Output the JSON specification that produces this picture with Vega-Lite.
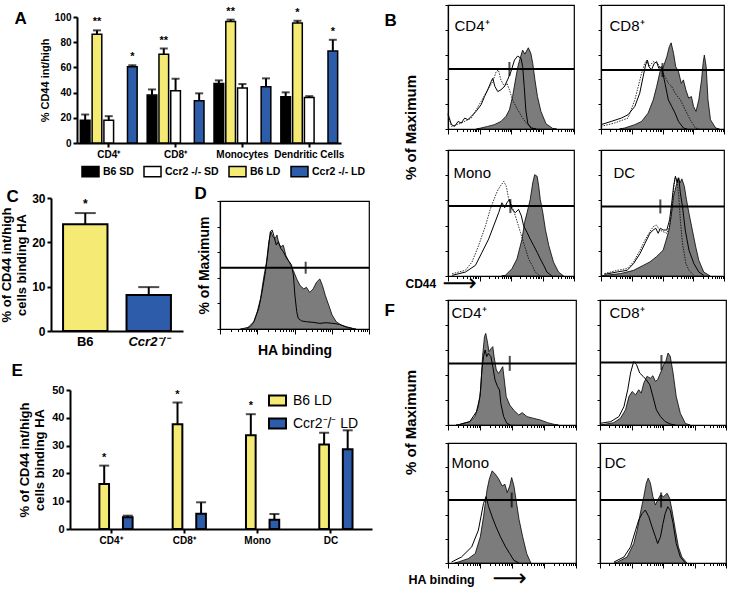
{
"$schema": "https://vega.github.io/schema/vega-lite/v6.json",
"padding": 0,
"background": "white",
"config": {
  "font": "Liberation Sans",
  "view": {"stroke": null},
  "axis": {"domainColor": "black", "tickColor": "black", "labelColor": "black", "titleColor": "black", "grid": false, "labelFont": "Liberation Sans", "titleFont": "Liberation Sans"},
  "title": {"color": "black", "font": "Liberation Sans"},
  "legend": {"labelColor": "black", "labelFont": "Liberation Sans"}
},
"datasets": {
  "barsA": [
    {"cell": "CD4⁺", "grp": "B6 SD", "v": 18.1, "hi": 22.6, "star": ""},
    {"cell": "CD4⁺", "grp": "Ccr2 -/- SD", "v": 18, "hi": 21.3, "star": ""},
    {"cell": "CD4⁺", "grp": "B6 LD", "v": 86.4, "hi": 89.4, "star": "**"},
    {"cell": "CD4⁺", "grp": "Ccr2 -/- LD", "v": 60.6, "hi": 61.7, "star": "*"},
    {"cell": "CD8⁺", "grp": "B6 SD", "v": 38, "hi": 42.5, "star": ""},
    {"cell": "CD8⁺", "grp": "Ccr2 -/- SD", "v": 41.5, "hi": 51, "star": ""},
    {"cell": "CD8⁺", "grp": "B6 LD", "v": 70.5, "hi": 75, "star": "**"},
    {"cell": "CD8⁺", "grp": "Ccr2 -/- LD", "v": 33.5, "hi": 39.4, "star": ""},
    {"cell": "Monocytes", "grp": "B6 SD", "v": 47.3, "hi": 49.7, "star": ""},
    {"cell": "Monocytes", "grp": "Ccr2 -/- SD", "v": 43.6, "hi": 46.8, "star": ""},
    {"cell": "Monocytes", "grp": "B6 LD", "v": 96.5, "hi": 97.9, "star": "**"},
    {"cell": "Monocytes", "grp": "Ccr2 -/- LD", "v": 44.7, "hi": 51.3, "star": ""},
    {"cell": "Dendritic Cells", "grp": "B6 SD", "v": 36.7, "hi": 40.2, "star": ""},
    {"cell": "Dendritic Cells", "grp": "Ccr2 -/- SD", "v": 36.2, "hi": 37.2, "star": ""},
    {"cell": "Dendritic Cells", "grp": "B6 LD", "v": 95.2, "hi": 97, "star": "*"},
    {"cell": "Dendritic Cells", "grp": "Ccr2 -/- LD", "v": 73.1, "hi": 81.9, "star": "*"}
  ],
  "barsC": [
    {"grp": "B6", "v": 24.1, "hi": 26.6, "star": "*"},
    {"grp": "Ccr2⁻/⁻", "v": 8.1, "hi": 9.9, "star": ""}
  ],
  "barsE": [
    {"cell": "CD4⁺", "grp": "B6 LD", "v": 16.2, "hi": 22.8, "star": "*"},
    {"cell": "CD4⁺", "grp": "Ccr2⁻/⁻ LD", "v": 4.2, "hi": 4.8, "star": ""},
    {"cell": "CD8⁺", "grp": "B6 LD", "v": 37.7, "hi": 45.5, "star": "*"},
    {"cell": "CD8⁺", "grp": "Ccr2⁻/⁻ LD", "v": 5.5, "hi": 9.6, "star": ""},
    {"cell": "Mono", "grp": "B6 LD", "v": 33.7, "hi": 41.3, "star": "*"},
    {"cell": "Mono", "grp": "Ccr2⁻/⁻ LD", "v": 3.3, "hi": 5.4, "star": ""},
    {"cell": "DC", "grp": "B6 LD", "v": 30.4, "hi": 34.6, "star": ""},
    {"cell": "DC", "grp": "Ccr2⁻/⁻ LD", "v": 28.7, "hi": 35.5, "star": ""}
  ],
  "gates": [
    {"p": "B1", "x": 1.95, "y": 48.4, "lo": 0, "hi": 4},
    {"p": "B2", "x": 2.0, "y": 47.6, "lo": 0, "hi": 4},
    {"p": "B3", "x": 1.98, "y": 55.5, "lo": 0, "hi": 4},
    {"p": "B4", "x": 1.93, "y": 55.2, "lo": 0, "hi": 4},
    {"p": "F1", "x": 1.93, "y": 49.3, "lo": 0, "hi": 4},
    {"p": "F2", "x": 1.95, "y": 50.0, "lo": 0, "hi": 4},
    {"p": "F3", "x": 1.99, "y": 52.5, "lo": 0, "hi": 4},
    {"p": "F4", "x": 1.94, "y": 52.5, "lo": 0, "hi": 4},
    {"p": "D", "x": 2.3, "y": 47.9, "lo": 0, "hi": 4}
  ],
  "B1g": [{"x":0.9,"y":0},{"x":1.05,"y":0.8},{"x":1.26,"y":2.1},{"x":1.47,"y":3.5},{"x":1.68,"y":6.1},{"x":1.84,"y":10.2},{"x":1.95,"y":15.5},{"x":2.05,"y":26.2},{"x":2.16,"y":42.2},{"x":2.23,"y":51.6},{"x":2.32,"y":59.6},{"x":2.37,"y":63.6},{"x":2.44,"y":60.4},{"x":2.55,"y":65.5},{"x":2.63,"y":61.0},{"x":2.69,"y":52.9},{"x":2.76,"y":39.6},{"x":2.84,"y":26.2},{"x":2.95,"y":14.2},{"x":3.11,"y":4.3},{"x":3.32,"y":0.5},{"x":3.45,"y":0}],
  "B1l": [{"x":0,"y":11.5},{"x":0.11,"y":3.5},{"x":0.21,"y":2.1},{"x":0.32,"y":6.1},{"x":0.42,"y":4.8},{"x":0.53,"y":8.8},{"x":0.63,"y":7.5},{"x":0.74,"y":10.2},{"x":0.89,"y":14.2},{"x":1.05,"y":19.5},{"x":1.16,"y":26.2},{"x":1.26,"y":31.6},{"x":1.37,"y":38.2},{"x":1.42,"y":40.9},{"x":1.49,"y":34.2},{"x":1.58,"y":30.2},{"x":1.68,"y":31.6},{"x":1.79,"y":34.2},{"x":1.89,"y":39.6},{"x":2.0,"y":46.3},{"x":2.11,"y":55.6},{"x":2.21,"y":58.8},{"x":2.32,"y":57.0},{"x":2.37,"y":50.3},{"x":2.42,"y":34.2},{"x":2.47,"y":15.5},{"x":2.53,"y":4.8},{"x":2.63,"y":0.8},{"x":2.8,"y":0}],
  "B1d": [{"x":0,"y":12.8},{"x":0.11,"y":2.1},{"x":0.42,"y":4.8},{"x":0.74,"y":8.8},{"x":1.05,"y":22.2},{"x":1.26,"y":31.6},{"x":1.42,"y":38.2},{"x":1.53,"y":46.3},{"x":1.6,"y":47.6},{"x":1.68,"y":39.6},{"x":1.79,"y":34.2},{"x":1.87,"y":36.9},{"x":1.95,"y":31.6},{"x":2.05,"y":23.5},{"x":2.21,"y":15.5},{"x":2.37,"y":8.8},{"x":2.53,"y":3.5},{"x":2.68,"y":0.8},{"x":2.85,"y":0}],
  "B2g": [{"x":0.6,"y":0},{"x":0.77,"y":0.8},{"x":1.1,"y":3.5},{"x":1.32,"y":6.1},{"x":1.53,"y":12.8},{"x":1.7,"y":23.5},{"x":1.81,"y":34.2},{"x":1.92,"y":46.3},{"x":2.03,"y":50.3},{"x":2.14,"y":58.3},{"x":2.22,"y":66.3},{"x":2.28,"y":69.5},{"x":2.36,"y":61.0},{"x":2.43,"y":50.3},{"x":2.52,"y":46.3},{"x":2.61,"y":36.9},{"x":2.68,"y":39.6},{"x":2.76,"y":31.6},{"x":2.85,"y":24.9},{"x":2.94,"y":26.2},{"x":3.01,"y":18.2},{"x":3.09,"y":14.2},{"x":3.18,"y":23.5},{"x":3.27,"y":39.6},{"x":3.32,"y":52.9},{"x":3.36,"y":59.6},{"x":3.42,"y":50.3},{"x":3.48,"y":23.5},{"x":3.56,"y":7.5},{"x":3.73,"y":0.8},{"x":3.85,"y":0}],
  "B2l": [{"x":0,"y":3.5},{"x":0.33,"y":6.1},{"x":0.66,"y":8.8},{"x":0.88,"y":11.5},{"x":1.1,"y":18.2},{"x":1.26,"y":28.9},{"x":1.37,"y":42.2},{"x":1.45,"y":51.6},{"x":1.51,"y":55.6},{"x":1.56,"y":50.3},{"x":1.64,"y":47.6},{"x":1.73,"y":52.9},{"x":1.81,"y":54.3},{"x":1.88,"y":48.9},{"x":1.97,"y":50.3},{"x":2.08,"y":36.9},{"x":2.19,"y":23.5},{"x":2.3,"y":18.2},{"x":2.41,"y":12.8},{"x":2.52,"y":6.1},{"x":2.68,"y":0.8},{"x":2.8,"y":0}],
  "B2d": [{"x":0,"y":2.1},{"x":0.44,"y":4.8},{"x":0.88,"y":8.8},{"x":1.1,"y":23.5},{"x":1.21,"y":34.2},{"x":1.32,"y":44.9},{"x":1.42,"y":52.9},{"x":1.49,"y":55.6},{"x":1.56,"y":50.3},{"x":1.7,"y":54.3},{"x":1.84,"y":52.9},{"x":1.97,"y":47.6},{"x":2.08,"y":42.2},{"x":2.19,"y":36.9},{"x":2.3,"y":34.2},{"x":2.41,"y":28.9},{"x":2.58,"y":23.5},{"x":2.74,"y":15.5},{"x":2.9,"y":7.5},{"x":3.07,"y":0.8},{"x":3.2,"y":0}],
  "B3g": [{"x":1.7,"y":0},{"x":1.82,"y":0.5},{"x":2.03,"y":5.8},{"x":2.19,"y":13.6},{"x":2.35,"y":29.3},{"x":2.43,"y":42.4},{"x":2.51,"y":50.3},{"x":2.61,"y":60.7},{"x":2.69,"y":73.8},{"x":2.75,"y":80.4},{"x":2.83,"y":79.1},{"x":2.88,"y":71.2},{"x":2.93,"y":60.7},{"x":3.01,"y":50.3},{"x":3.09,"y":37.2},{"x":3.2,"y":24.1},{"x":3.35,"y":11.0},{"x":3.51,"y":3.1},{"x":3.67,"y":0}],
  "B3l": [{"x":0.13,"y":0.5},{"x":0.55,"y":3.1},{"x":0.87,"y":8.4},{"x":1.08,"y":18.8},{"x":1.29,"y":29.3},{"x":1.45,"y":39.8},{"x":1.61,"y":50.3},{"x":1.71,"y":58.1},{"x":1.8,"y":54.2},{"x":1.87,"y":58.1},{"x":1.95,"y":60.7},{"x":2.03,"y":52.9},{"x":2.14,"y":50.3},{"x":2.24,"y":52.9},{"x":2.33,"y":47.6},{"x":2.4,"y":39.8},{"x":2.51,"y":34.6},{"x":2.61,"y":29.3},{"x":2.72,"y":24.1},{"x":2.83,"y":18.8},{"x":2.93,"y":13.6},{"x":3.04,"y":8.4},{"x":3.14,"y":3.1},{"x":3.3,"y":0}],
  "B3d": [{"x":0.13,"y":1.8},{"x":0.55,"y":4.5},{"x":0.76,"y":11.0},{"x":0.97,"y":24.1},{"x":1.19,"y":39.8},{"x":1.34,"y":52.9},{"x":1.5,"y":63.4},{"x":1.59,"y":68.6},{"x":1.66,"y":71.2},{"x":1.77,"y":75.1},{"x":1.85,"y":71.2},{"x":1.93,"y":60.7},{"x":2.03,"y":55.5},{"x":2.14,"y":47.6},{"x":2.3,"y":34.6},{"x":2.43,"y":24.1},{"x":2.56,"y":13.6},{"x":2.67,"y":8.4},{"x":2.77,"y":3.1},{"x":2.93,"y":0}],
  "B4g": [{"x":0,"y":0},{"x":0.11,"y":0.5},{"x":0.64,"y":1.9},{"x":1.06,"y":4.5},{"x":1.38,"y":8.5},{"x":1.59,"y":11.2},{"x":1.8,"y":15.2},{"x":2.02,"y":20.5},{"x":2.12,"y":28.5},{"x":2.21,"y":36.5},{"x":2.28,"y":47.2},{"x":2.36,"y":63.2},{"x":2.44,"y":71.2},{"x":2.51,"y":77.9},{"x":2.57,"y":73.9},{"x":2.63,"y":77.1},{"x":2.71,"y":71.2},{"x":2.78,"y":60.5},{"x":2.86,"y":49.9},{"x":2.97,"y":36.5},{"x":3.08,"y":23.2},{"x":3.18,"y":12.5},{"x":3.34,"y":3.2},{"x":3.55,"y":0}],
  "B4l": [{"x":0.11,"y":1.3},{"x":0.53,"y":3.2},{"x":0.85,"y":4.5},{"x":1.06,"y":9.9},{"x":1.27,"y":17.9},{"x":1.43,"y":25.9},{"x":1.59,"y":33.9},{"x":1.7,"y":36.5},{"x":1.78,"y":37.9},{"x":1.86,"y":33.9},{"x":1.93,"y":37.9},{"x":2.02,"y":36.5},{"x":2.14,"y":36.5},{"x":2.23,"y":44.5},{"x":2.3,"y":57.9},{"x":2.36,"y":71.2},{"x":2.42,"y":79.2},{"x":2.48,"y":73.9},{"x":2.53,"y":77.9},{"x":2.58,"y":65.9},{"x":2.65,"y":55.2},{"x":2.74,"y":36.5},{"x":2.86,"y":20.5},{"x":3.02,"y":9.9},{"x":3.18,"y":3.2},{"x":3.34,"y":0.5}],
  "B4d": [{"x":0.11,"y":1.9},{"x":0.53,"y":4.5},{"x":0.85,"y":5.9},{"x":1.06,"y":11.2},{"x":1.27,"y":20.5},{"x":1.43,"y":28.5},{"x":1.59,"y":35.2},{"x":1.7,"y":39.2},{"x":1.8,"y":40.5},{"x":1.91,"y":36.5},{"x":2.02,"y":35.2},{"x":2.14,"y":33.9},{"x":2.23,"y":39.2},{"x":2.3,"y":52.5},{"x":2.36,"y":68.5},{"x":2.41,"y":77.9},{"x":2.47,"y":76.5},{"x":2.53,"y":63.2},{"x":2.58,"y":44.5},{"x":2.65,"y":25.9},{"x":2.76,"y":9.9},{"x":2.86,"y":4.5},{"x":3.02,"y":0.5}],
  "F1g": [{"x":0.25,"y":0},{"x":0.37,"y":0.5},{"x":0.68,"y":2.7},{"x":0.84,"y":6.7},{"x":0.95,"y":14.7},{"x":1.02,"y":28.0},{"x":1.08,"y":54.7},{"x":1.14,"y":70.7},{"x":1.18,"y":73.3},{"x":1.24,"y":65.3},{"x":1.28,"y":58.7},{"x":1.35,"y":61.3},{"x":1.4,"y":62.7},{"x":1.44,"y":54.7},{"x":1.51,"y":44.0},{"x":1.58,"y":41.3},{"x":1.65,"y":44.0},{"x":1.71,"y":46.7},{"x":1.76,"y":36.0},{"x":1.82,"y":22.7},{"x":1.93,"y":16.0},{"x":2.05,"y":12.0},{"x":2.21,"y":8.0},{"x":2.32,"y":9.9},{"x":2.47,"y":6.7},{"x":2.68,"y":5.3},{"x":2.89,"y":4.0},{"x":3.11,"y":1.9},{"x":3.32,"y":0.5},{"x":3.45,"y":0}],
  "F1l": [{"x":0.37,"y":0.5},{"x":0.68,"y":2.7},{"x":0.89,"y":10.7},{"x":1.0,"y":22.7},{"x":1.06,"y":44.0},{"x":1.11,"y":54.7},{"x":1.16,"y":60.0},{"x":1.21,"y":54.7},{"x":1.26,"y":57.3},{"x":1.34,"y":54.7},{"x":1.4,"y":46.7},{"x":1.47,"y":36.0},{"x":1.55,"y":30.7},{"x":1.61,"y":28.0},{"x":1.65,"y":17.3},{"x":1.74,"y":6.7},{"x":1.84,"y":1.3},{"x":1.95,"y":0}],
  "F2g": [{"x":0,"y":0},{"x":0.13,"y":0.5},{"x":0.44,"y":1.9},{"x":0.65,"y":5.4},{"x":0.81,"y":12.1},{"x":0.92,"y":22.8},{"x":1.02,"y":26.8},{"x":1.13,"y":24.1},{"x":1.23,"y":28.2},{"x":1.31,"y":25.5},{"x":1.39,"y":33.5},{"x":1.49,"y":38.9},{"x":1.6,"y":37.5},{"x":1.68,"y":39.4},{"x":1.76,"y":34.9},{"x":1.83,"y":36.2},{"x":1.92,"y":41.6},{"x":2.02,"y":48.3},{"x":2.09,"y":50.9},{"x":2.16,"y":57.6},{"x":2.23,"y":55.0},{"x":2.32,"y":41.6},{"x":2.42,"y":22.8},{"x":2.55,"y":9.4},{"x":2.71,"y":1.3},{"x":2.86,"y":0}],
  "F2l": [{"x":0,"y":1.3},{"x":0.34,"y":2.7},{"x":0.6,"y":6.7},{"x":0.76,"y":14.7},{"x":0.88,"y":28.2},{"x":0.97,"y":41.6},{"x":1.07,"y":50.9},{"x":1.16,"y":48.3},{"x":1.26,"y":41.6},{"x":1.37,"y":38.9},{"x":1.47,"y":36.2},{"x":1.58,"y":32.2},{"x":1.68,"y":22.8},{"x":1.79,"y":12.1},{"x":1.92,"y":6.7},{"x":2.07,"y":2.7},{"x":2.23,"y":0.8},{"x":2.39,"y":0}],
  "F3g": [{"x":0.2,"y":0},{"x":0.32,"y":0.8},{"x":0.63,"y":3.6},{"x":0.85,"y":7.8},{"x":1.01,"y":21.8},{"x":1.11,"y":38.5},{"x":1.22,"y":60.9},{"x":1.29,"y":69.8},{"x":1.38,"y":76.8},{"x":1.48,"y":74.0},{"x":1.59,"y":69.8},{"x":1.69,"y":64.2},{"x":1.78,"y":65.6},{"x":1.85,"y":58.7},{"x":1.93,"y":64.2},{"x":1.99,"y":71.2},{"x":2.06,"y":64.2},{"x":2.14,"y":50.3},{"x":2.22,"y":36.3},{"x":2.33,"y":22.3},{"x":2.46,"y":7.8},{"x":2.59,"y":0}],
  "F3l": [{"x":0.11,"y":0.8},{"x":0.42,"y":5.0},{"x":0.74,"y":13.4},{"x":0.95,"y":27.4},{"x":1.11,"y":49.7},{"x":1.19,"y":55.3},{"x":1.27,"y":46.9},{"x":1.38,"y":38.5},{"x":1.5,"y":30.2},{"x":1.64,"y":21.8},{"x":1.8,"y":13.4},{"x":1.93,"y":7.8},{"x":2.06,"y":2.2},{"x":2.22,"y":0}],
  "F4g": [{"x":0.45,"y":0},{"x":0.55,"y":0.8},{"x":0.86,"y":5.0},{"x":1.07,"y":16.2},{"x":1.18,"y":27.4},{"x":1.28,"y":41.3},{"x":1.39,"y":55.3},{"x":1.47,"y":66.5},{"x":1.53,"y":70.7},{"x":1.6,"y":66.5},{"x":1.68,"y":55.3},{"x":1.76,"y":48.3},{"x":1.83,"y":52.5},{"x":1.92,"y":56.7},{"x":2.02,"y":55.3},{"x":2.13,"y":58.1},{"x":2.21,"y":53.9},{"x":2.28,"y":44.7},{"x":2.39,"y":27.9},{"x":2.49,"y":13.4},{"x":2.6,"y":5.0},{"x":2.76,"y":0}],
  "F4l": [{"x":0.44,"y":0.8},{"x":0.76,"y":5.0},{"x":0.97,"y":13.4},{"x":1.13,"y":27.4},{"x":1.23,"y":35.8},{"x":1.34,"y":41.3},{"x":1.44,"y":44.1},{"x":1.55,"y":38.5},{"x":1.65,"y":30.2},{"x":1.76,"y":21.8},{"x":1.83,"y":16.2},{"x":1.92,"y":21.8},{"x":2.0,"y":33.0},{"x":2.07,"y":41.3},{"x":2.15,"y":46.9},{"x":2.23,"y":44.1},{"x":2.32,"y":33.0},{"x":2.42,"y":16.2},{"x":2.55,"y":5.0},{"x":2.71,"y":0}],
  "Dg": [{"x":0.55,"y":0},{"x":0.64,"y":0.5},{"x":0.82,"y":1.8},{"x":0.91,"y":5.7},{"x":1.0,"y":13.5},{"x":1.09,"y":24.0},{"x":1.17,"y":39.6},{"x":1.25,"y":52.6},{"x":1.31,"y":68.2},{"x":1.37,"y":76.0},{"x":1.42,"y":72.0},{"x":1.48,"y":70.6},{"x":1.53,"y":73.4},{"x":1.58,"y":66.7},{"x":1.63,"y":64.3},{"x":1.7,"y":65.4},{"x":1.77,"y":57.3},{"x":1.84,"y":53.4},{"x":1.9,"y":49.5},{"x":1.97,"y":45.6},{"x":2.06,"y":39.1},{"x":2.15,"y":33.9},{"x":2.25,"y":31.3},{"x":2.32,"y":32.6},{"x":2.41,"y":28.6},{"x":2.5,"y":31.3},{"x":2.59,"y":36.5},{"x":2.68,"y":39.1},{"x":2.75,"y":34.0},{"x":2.83,"y":26.0},{"x":2.92,"y":18.5},{"x":3.01,"y":10.9},{"x":3.12,"y":5.7},{"x":3.25,"y":3.1},{"x":3.43,"y":1.0},{"x":3.65,"y":0}],
  "Dl": [{"x":0.73,"y":0.5},{"x":0.91,"y":5.7},{"x":1.04,"y":16.1},{"x":1.13,"y":29.2},{"x":1.22,"y":44.8},{"x":1.29,"y":60.4},{"x":1.35,"y":76.0},{"x":1.4,"y":77.3},{"x":1.44,"y":73.4},{"x":1.51,"y":65.6},{"x":1.57,"y":68.2},{"x":1.63,"y":63.0},{"x":1.7,"y":60.4},{"x":1.79,"y":55.2},{"x":1.86,"y":52.6},{"x":1.92,"y":50.0},{"x":1.97,"y":42.2},{"x":2.01,"y":26.6},{"x":2.06,"y":13.5},{"x":2.1,"y":8.3},{"x":2.19,"y":6.3},{"x":2.32,"y":5.7},{"x":2.5,"y":5.2},{"x":2.68,"y":4.4},{"x":2.85,"y":4.9},{"x":3.03,"y":4.4},{"x":3.21,"y":3.6},{"x":3.38,"y":1.8},{"x":3.56,"y":0.5}]
},
"bounds": "flush",
"spacing": 447,
"resolve": {"scale": {"fill": "independent"}, "legend": {"fill": "independent"}},
"hconcat": [
  {
    "bounds": "flush", "spacing": 0,
    "resolve": {"scale": {"fill": "independent"}, "legend": {"fill": "independent"}},
    "vconcat": [
      {"width": 1, "height": 17, "data": {"values": []}, "mark": "point"},
      {
        "bounds": "flush", "spacing": 0,
        "hconcat": [
          {"width": 76, "height": 1, "data": {"values": []}, "mark": "point"},
          {
            "width": 264, "height": 126,
            "data": {"name": "barsA"},
            "encoding": {
              "x": {"field": "cell", "type": "nominal", "sort": ["CD4⁺", "CD8⁺", "Monocytes", "Dendritic Cells"], "scale": {"paddingInner": 0.15, "paddingOuter": 0.05}, "axis": {"title": "A", "titleX": -63, "titleY": -120, "titleAlign": "left", "titleBaseline": "alphabetic", "titleAngle": 0, "titleFontSize": 17, "titleFontWeight": "bold", "labelAngle": 0, "labelFontSize": 10, "labelFontWeight": "bold", "domainWidth": 2, "tickWidth": 2, "tickSize": 4, "labelPadding": 2}},
              "xOffset": {"field": "grp", "type": "nominal", "sort": ["B6 SD", "Ccr2 -/- SD", "B6 LD", "Ccr2 -/- LD"], "scale": {"paddingInner": 0.18}}
            },
            "layer": [
              {"mark": {"type": "bar", "stroke": "black", "strokeWidth": 1.5},
               "encoding": {
                 "y": {"field": "v", "type": "quantitative", "scale": {"domain": [0, 100], "nice": false}, "axis": {"title": "% CD44 int/high", "values": [0, 20, 40, 60, 80, 100], "tickCount": 20, "labelOverlap": false, "labelFontSize": 10, "labelFontWeight": "bold", "titleFontSize": 11, "titleFontWeight": "bold", "domainWidth": 2, "tickWidth": 2, "tickSize": 4, "titlePadding": 4}},
                 "fill": {"field": "grp", "type": "nominal", "sort": ["B6 SD", "Ccr2 -/- SD", "B6 LD", "Ccr2 -/- LD"], "scale": {"domain": ["B6 SD", "Ccr2 -/- SD", "B6 LD", "Ccr2 -/- LD"], "range": ["#000000", "#ffffff", "#f5ea74", "#2d5caa"]},
                   "legend": {"title": null, "orient": "none", "legendX": 80, "legendY": 145, "direction": "horizontal", "symbolType": "M-1,-0.6H1V0.6H-1Z", "symbolSize": 289, "symbolStrokeColor": "black", "symbolStrokeWidth": 1.5, "labelFontSize": 10.5, "labelFontWeight": "bold", "columnPadding": 7, "labelOffset": 3, "padding": 0}}
               }},
              {"mark": {"type": "rule", "color": "black", "strokeWidth": 2}, "encoding": {"y": {"field": "v", "type": "quantitative"}, "y2": {"field": "hi"}}},
              {"mark": {"type": "tick", "orient": "horizontal", "color": "black", "size": 8, "thickness": 2}, "encoding": {"y": {"field": "hi", "type": "quantitative"}}},
              {"mark": {"type": "text", "dy": -5, "fontSize": 11, "fontWeight": "bold", "baseline": "alphabetic", "color": "black"}, "encoding": {"y": {"field": "hi", "type": "quantitative"}, "text": {"field": "star"}}}
            ]
          }
        ]
      },
      {"width": 1, "height": 181, "data": {"values": []}, "mark": "point"},
      {
        "bounds": "flush", "spacing": 0,
        "hconcat": [
          {"width": 50, "height": 1, "data": {"values": []}, "mark": "point"},
          {
            "width": 132, "height": 133,
            "data": {"name": "barsC"},
            "encoding": {
              "x": {"field": "grp", "type": "nominal", "sort": ["B6", "Ccr2⁻/⁻"], "scale": {"paddingInner": 0.3, "paddingOuter": 0.19}, "axis": {"title": "C", "titleX": -45, "titleY": -130, "titleAlign": "left", "titleBaseline": "alphabetic", "titleAngle": 0, "titleFontSize": 17, "titleFontWeight": "bold", "labelAngle": 0, "labelFontSize": 13, "labelFontWeight": "bold", "labelFontStyle": {"condition": {"test": "datum.value != 'B6'", "value": "italic"}, "value": "normal"}, "ticks": false, "domainWidth": 2, "labelPadding": 4}}
            },
            "layer": [
              {"mark": {"type": "bar", "stroke": "black", "strokeWidth": 2},
               "encoding": {
                 "y": {"field": "v", "type": "quantitative", "scale": {"domain": [0, 30], "nice": false}, "axis": {"title": ["% of CD44 int/high", "cells binding HA"], "values": [0, 10, 20, 30], "tickCount": 20, "labelOverlap": false, "labelFontSize": 12, "labelFontWeight": "bold", "titleFontSize": 13, "titleFontWeight": "bold", "domainWidth": 2, "tickWidth": 2, "tickSize": 4, "titlePadding": 3}},
                 "fill": {"field": "grp", "type": "nominal", "scale": {"domain": ["B6", "Ccr2⁻/⁻"], "range": ["#f5ea74", "#2d5caa"]}, "legend": null}
               }},
              {"mark": {"type": "rule", "color": "black", "strokeWidth": 2}, "encoding": {"y": {"field": "v", "type": "quantitative"}, "y2": {"field": "hi"}}},
              {"mark": {"type": "tick", "orient": "horizontal", "color": "black", "size": 21, "thickness": 2}, "encoding": {"y": {"field": "hi", "type": "quantitative"}}},
              {"mark": {"type": "text", "dy": -5, "fontSize": 12, "fontWeight": "bold", "baseline": "alphabetic", "color": "black"}, "encoding": {"y": {"field": "hi", "type": "quantitative"}, "text": {"field": "star"}}}
            ]
          },
          {"width": 37, "height": 1, "data": {"values": [{"a": 0}]}, "mark": {"type": "point", "opacity": 0, "size": 0},
           "encoding": {"x": {"field": "a", "type": "quantitative", "axis": {"title": "D", "labels": false, "ticks": false, "domain": false, "titleX": 11, "titleY": -1, "titleAlign": "left", "titleBaseline": "alphabetic", "titleAngle": 0, "titleFontSize": 17, "titleFontWeight": "bold"}}}},
          {
            "bounds": "flush", "spacing": 0,
            "vconcat": [
              {"width": 1, "height": 3, "data": {"values": []}, "mark": "point"},
              {
                "width": 149, "height": 128,
                "view": {"stroke": "black", "strokeWidth": 1.2},
                "layer": [
                  {"data": {"name": "Dg"}, "mark": {"type": "area", "fill": "#7c7c7c", "stroke": "black", "strokeWidth": 0.8},
                   "encoding": {
                     "x": {"field": "x", "type": "quantitative", "scale": {"domain": [0, 4], "nice": false, "zero": false}, "axis": {"title": "HA binding", "titleFontSize": 14, "titleFontWeight": "bold", "titlePadding": 9, "labels": false, "tickCount": 60, "values": [0,0.301,0.477,0.602,0.699,0.778,0.845,0.903,0.954,1,1.301,1.477,1.602,1.699,1.778,1.845,1.903,1.954,2,2.301,2.477,2.602,2.699,2.778,2.845,2.903,2.954,3,3.301,3.477,3.602,3.699,3.778,3.845,3.903,3.954,4], "tickSize": {"condition": {"test": "abs(datum.value - round(datum.value)) < 0.01", "value": 5}, "value": 2.5}, "tickWidth": 1, "domainWidth": 1.2}},
                     "y": {"field": "y", "type": "quantitative", "scale": {"domain": [0, 100], "nice": false}, "axis": {"title": "% of Maximum", "titleFontSize": 14, "titleFontWeight": "bold", "titlePadding": 5, "labels": false, "tickCount": 20, "values": [0, 20, 40, 60, 80, 100], "tickSize": 3, "tickWidth": 1, "domainWidth": 1.2}}
                   }},
                  {"data": {"name": "Dl"}, "mark": {"type": "line", "color": "black", "strokeWidth": 1}, "encoding": {"x": {"field": "x", "type": "quantitative"}, "y": {"field": "y", "type": "quantitative"}}},
                  {"data": {"name": "gates"}, "transform": [{"filter": "datum.p == 'D'"}], "mark": {"type": "rule", "color": "black", "strokeWidth": 2}, "encoding": {"x": {"field": "lo", "type": "quantitative"}, "x2": {"field": "hi"}, "y": {"field": "y", "type": "quantitative"}}},
                  {"data": {"name": "gates"}, "transform": [{"filter": "datum.p == 'D'"}], "mark": {"type": "tick", "orient": "vertical", "color": "black", "size": 12, "thickness": 2}, "encoding": {"x": {"field": "x", "type": "quantitative"}, "y": {"field": "y", "type": "quantitative"}}}
                ]
              }
            ]
          }
        ]
      },
      {"width": 1, "height": 192, "data": {"values": []}, "mark": "point"},
      {
        "bounds": "flush", "spacing": 0,
        "hconcat": [
          {"width": 69, "height": 1, "data": {"values": []}, "mark": "point"},
          {
            "width": 302, "height": 139,
            "data": {"name": "barsE"},
            "encoding": {
              "x": {"field": "cell", "type": "nominal", "sort": ["CD4⁺", "CD8⁺", "Mono", "DC"], "scale": {"paddingInner": 0.36, "paddingOuter": 0.24}, "axis": {"title": "E", "titleX": -59, "titleY": -154, "titleAlign": "left", "titleBaseline": "alphabetic", "titleAngle": 0, "titleFontSize": 17, "titleFontWeight": "bold", "labelAngle": 0, "labelFontSize": 10, "labelFontWeight": "bold", "domainWidth": 2, "tickWidth": 2, "tickSize": 4, "labelPadding": 2}},
              "xOffset": {"field": "grp", "type": "nominal", "sort": ["B6 LD", "Ccr2⁻/⁻ LD"], "scale": {"paddingInner": 0.28}}
            },
            "layer": [
              {"mark": {"type": "bar", "stroke": "black", "strokeWidth": 2},
               "encoding": {
                 "y": {"field": "v", "type": "quantitative", "scale": {"domain": [0, 50], "nice": false}, "axis": {"title": ["% of CD44 int/high", "cells binding HA"], "values": [0, 10, 20, 30, 40, 50], "tickCount": 20, "labelOverlap": false, "labelFontSize": 11, "labelFontWeight": "bold", "titleFontSize": 13, "titleFontWeight": "bold", "domainWidth": 2, "tickWidth": 2, "tickSize": 4, "titlePadding": 5}},
                 "fill": {"field": "grp", "type": "nominal", "sort": ["B6 LD", "Ccr2⁻/⁻ LD"], "scale": {"domain": ["B6 LD", "Ccr2⁻/⁻ LD"], "range": ["#f5ea74", "#2d5caa"]},
                   "legend": {"title": null, "orient": "none", "legendX": 267, "legendY": 1, "symbolType": "M-1,-0.6H1V0.6H-1Z", "symbolSize": 289, "symbolStrokeColor": "black", "symbolStrokeWidth": 2, "labelFontSize": 14, "labelFontWeight": "normal", "rowPadding": 4, "labelOffset": 6, "padding": 0}}
               }},
              {"mark": {"type": "rule", "color": "black", "strokeWidth": 2}, "encoding": {"y": {"field": "v", "type": "quantitative"}, "y2": {"field": "hi"}}},
              {"mark": {"type": "tick", "orient": "horizontal", "color": "black", "size": 10, "thickness": 2}, "encoding": {"y": {"field": "hi", "type": "quantitative"}}},
              {"mark": {"type": "text", "dy": -5, "fontSize": 11, "fontWeight": "bold", "baseline": "alphabetic", "color": "black"}, "encoding": {"y": {"field": "hi", "type": "quantitative"}, "text": {"field": "star"}}}
            ]
          }
        ]
      }
    ]
  },
  {
    "bounds": "flush", "spacing": 0,
    "vconcat": [
      {"width": 1, "height": 5, "data": {"values": []}, "mark": "point"},
      {
        "bounds": "flush", "spacing": 27,
        "hconcat": [
          {
            "width": 126, "height": 124, "view": {"stroke": "black", "strokeWidth": 1.2},
            "layer": [
              {"data": {"name": "B1g"}, "mark": {"type": "area", "fill": "#7c7c7c", "stroke": "black", "strokeWidth": 0.8},
               "encoding": {
                 "x": {"field": "x", "type": "quantitative", "scale": {"domain": [0, 4], "nice": false, "zero": false}, "axis": {"title": "CD4⁺", "titleX": 6, "titleY": -99, "titleAlign": "left", "titleBaseline": "alphabetic", "titleAngle": 0, "titleFontSize": 15, "titleFontWeight": "normal", "labels": false, "tickCount": 60, "values": [0,0.301,0.477,0.602,0.699,0.778,0.845,0.903,0.954,1,1.301,1.477,1.602,1.699,1.778,1.845,1.903,1.954,2,2.301,2.477,2.602,2.699,2.778,2.845,2.903,2.954,3,3.301,3.477,3.602,3.699,3.778,3.845,3.903,3.954,4], "tickSize": {"condition": {"test": "abs(datum.value - round(datum.value)) < 0.01", "value": 5}, "value": 2.5}, "tickWidth": 1, "domainWidth": 1.2}},
                 "y": {"field": "y", "type": "quantitative", "scale": {"domain": [0, 100], "nice": false}, "axis": {"title": "% of Maximum", "titleFontSize": 15, "titleFontWeight": "bold", "titleAngle": -90, "titleX": -38, "titleY": 122, "titleAlign": "center", "titleBaseline": "middle", "labels": false, "tickCount": 20, "values": [0, 20, 40, 60, 80, 100], "tickSize": 3, "tickWidth": 1, "domainWidth": 1.2}}
               }},
              {"data": {"name": "B1l"}, "mark": {"type": "line", "color": "black", "strokeWidth": 1}, "encoding": {"x": {"field": "x", "type": "quantitative"}, "y": {"field": "y", "type": "quantitative"}}},
              {"data": {"name": "B1d"}, "mark": {"type": "line", "color": "black", "strokeWidth": 0.8, "strokeDash": [1.5, 1.2]}, "encoding": {"x": {"field": "x", "type": "quantitative"}, "y": {"field": "y", "type": "quantitative"}}},
              {"data": {"name": "gates"}, "transform": [{"filter": "datum.p == 'B1'"}], "mark": {"type": "rule", "color": "black", "strokeWidth": 2}, "encoding": {"x": {"field": "lo", "type": "quantitative"}, "x2": {"field": "hi"}, "y": {"field": "y", "type": "quantitative"}}},
              {"data": {"name": "gates"}, "transform": [{"filter": "datum.p == 'B1'"}], "mark": {"type": "tick", "orient": "vertical", "color": "black", "size": 14, "thickness": 2}, "encoding": {"x": {"field": "x", "type": "quantitative"}, "y": {"field": "y", "type": "quantitative"}}}
            ]
          },
          {
            "width": 123, "height": 124, "view": {"stroke": "black", "strokeWidth": 1.2},
            "layer": [
              {"data": {"name": "B2g"}, "mark": {"type": "area", "fill": "#7c7c7c", "stroke": "black", "strokeWidth": 0.8},
               "encoding": {
                 "x": {"field": "x", "type": "quantitative", "scale": {"domain": [0, 4], "nice": false, "zero": false}, "axis": {"title": "CD8⁺", "titleX": 8, "titleY": -99, "titleAlign": "left", "titleBaseline": "alphabetic", "titleAngle": 0, "titleFontSize": 15, "titleFontWeight": "normal", "labels": false, "tickCount": 60, "values": [0,0.301,0.477,0.602,0.699,0.778,0.845,0.903,0.954,1,1.301,1.477,1.602,1.699,1.778,1.845,1.903,1.954,2,2.301,2.477,2.602,2.699,2.778,2.845,2.903,2.954,3,3.301,3.477,3.602,3.699,3.778,3.845,3.903,3.954,4], "tickSize": {"condition": {"test": "abs(datum.value - round(datum.value)) < 0.01", "value": 5}, "value": 2.5}, "tickWidth": 1, "domainWidth": 1.2}},
                 "y": {"field": "y", "type": "quantitative", "scale": {"domain": [0, 100], "nice": false}, "axis": {"title": "B", "titleX": -217, "titleY": 20, "titleAlign": "left", "titleBaseline": "alphabetic", "titleAngle": 0, "titleFontSize": 17, "titleFontWeight": "bold", "labels": false, "tickCount": 20, "values": [0, 20, 40, 60, 80, 100], "tickSize": 3, "tickWidth": 1, "domainWidth": 1.2}}
               }},
              {"data": {"name": "B2l"}, "mark": {"type": "line", "color": "black", "strokeWidth": 1}, "encoding": {"x": {"field": "x", "type": "quantitative"}, "y": {"field": "y", "type": "quantitative"}}},
              {"data": {"name": "B2d"}, "mark": {"type": "line", "color": "black", "strokeWidth": 0.8, "strokeDash": [1.5, 1.2]}, "encoding": {"x": {"field": "x", "type": "quantitative"}, "y": {"field": "y", "type": "quantitative"}}},
              {"data": {"name": "gates"}, "transform": [{"filter": "datum.p == 'B2'"}], "mark": {"type": "rule", "color": "black", "strokeWidth": 2}, "encoding": {"x": {"field": "lo", "type": "quantitative"}, "x2": {"field": "hi"}, "y": {"field": "y", "type": "quantitative"}}},
              {"data": {"name": "gates"}, "transform": [{"filter": "datum.p == 'B2'"}], "mark": {"type": "tick", "orient": "vertical", "color": "black", "size": 14, "thickness": 2}, "encoding": {"x": {"field": "x", "type": "quantitative"}, "y": {"field": "y", "type": "quantitative"}}}
            ]
          }
        ]
      },
      {"width": 1, "height": 145, "data": {"values": []}, "mark": "point"},
      {
        "bounds": "flush", "spacing": 27,
        "hconcat": [
          {
            "width": 126, "height": 126, "view": {"stroke": "black", "strokeWidth": 1.2},
            "layer": [
              {"data": {"name": "B3g"}, "mark": {"type": "area", "fill": "#7c7c7c", "stroke": "black", "strokeWidth": 0.8},
               "encoding": {
                 "x": {"field": "x", "type": "quantitative", "scale": {"domain": [0, 4], "nice": false, "zero": false}, "axis": {"title": "Mono", "titleX": 5, "titleY": -99, "titleAlign": "left", "titleBaseline": "alphabetic", "titleAngle": 0, "titleFontSize": 15, "titleFontWeight": "normal", "labels": false, "tickCount": 60, "values": [0,0.301,0.477,0.602,0.699,0.778,0.845,0.903,0.954,1,1.301,1.477,1.602,1.699,1.778,1.845,1.903,1.954,2,2.301,2.477,2.602,2.699,2.778,2.845,2.903,2.954,3,3.301,3.477,3.602,3.699,3.778,3.845,3.903,3.954,4], "tickSize": {"condition": {"test": "abs(datum.value - round(datum.value)) < 0.01", "value": 5}, "value": 2.5}, "tickWidth": 1, "domainWidth": 1.2}},
                 "y": {"field": "y", "type": "quantitative", "scale": {"domain": [0, 100], "nice": false}, "axis": {"title": "⟶", "titleFont": "DejaVu Sans", "titleFontSize": 24, "titleFontWeight": "normal", "titleAngle": 0, "titleX": -6, "titleY": 133, "titleAlign": "left", "titleBaseline": "middle", "labels": false, "tickCount": 20, "values": [0, 20, 40, 60, 80, 100], "tickSize": 3, "tickWidth": 1, "domainWidth": 1.2}}
               }},
              {"data": {"name": "B3l"}, "mark": {"type": "line", "color": "black", "strokeWidth": 1}, "encoding": {"x": {"field": "x", "type": "quantitative"}, "y": {"field": "y", "type": "quantitative"}}},
              {"data": {"name": "B3d"}, "mark": {"type": "line", "color": "black", "strokeWidth": 0.8, "strokeDash": [1.5, 1.2]}, "encoding": {"x": {"field": "x", "type": "quantitative"}, "y": {"field": "y", "type": "quantitative"}}},
              {"data": {"name": "gates"}, "transform": [{"filter": "datum.p == 'B3'"}], "mark": {"type": "rule", "color": "black", "strokeWidth": 2}, "encoding": {"x": {"field": "lo", "type": "quantitative"}, "x2": {"field": "hi"}, "y": {"field": "y", "type": "quantitative"}}},
              {"data": {"name": "gates"}, "transform": [{"filter": "datum.p == 'B3'"}], "mark": {"type": "tick", "orient": "vertical", "color": "black", "size": 14, "thickness": 2}, "encoding": {"x": {"field": "x", "type": "quantitative"}, "y": {"field": "y", "type": "quantitative"}}}
            ]
          },
          {
            "width": 123, "height": 126, "view": {"stroke": "black", "strokeWidth": 1.2},
            "layer": [
              {"data": {"name": "B4g"}, "mark": {"type": "area", "fill": "#7c7c7c", "stroke": "black", "strokeWidth": 0.8},
               "encoding": {
                 "x": {"field": "x", "type": "quantitative", "scale": {"domain": [0, 4], "nice": false, "zero": false}, "axis": {"title": "DC", "titleX": 12, "titleY": -99, "titleAlign": "left", "titleBaseline": "alphabetic", "titleAngle": 0, "titleFontSize": 15, "titleFontWeight": "normal", "labels": false, "tickCount": 60, "values": [0,0.301,0.477,0.602,0.699,0.778,0.845,0.903,0.954,1,1.301,1.477,1.602,1.699,1.778,1.845,1.903,1.954,2,2.301,2.477,2.602,2.699,2.778,2.845,2.903,2.954,3,3.301,3.477,3.602,3.699,3.778,3.845,3.903,3.954,4], "tickSize": {"condition": {"test": "abs(datum.value - round(datum.value)) < 0.01", "value": 5}, "value": 2.5}, "tickWidth": 1, "domainWidth": 1.2}},
                 "y": {"field": "y", "type": "quantitative", "scale": {"domain": [0, 100], "nice": false}, "axis": {"title": "CD44", "titleX": -196, "titleY": 133, "titleAlign": "left", "titleBaseline": "middle", "titleAngle": 0, "titleFontSize": 12, "titleFontWeight": "bold", "labels": false, "tickCount": 20, "values": [0, 20, 40, 60, 80, 100], "tickSize": 3, "tickWidth": 1, "domainWidth": 1.2}}
               }},
              {"data": {"name": "B4l"}, "mark": {"type": "line", "color": "black", "strokeWidth": 1}, "encoding": {"x": {"field": "x", "type": "quantitative"}, "y": {"field": "y", "type": "quantitative"}}},
              {"data": {"name": "B4d"}, "mark": {"type": "line", "color": "black", "strokeWidth": 0.8, "strokeDash": [1.5, 1.2]}, "encoding": {"x": {"field": "x", "type": "quantitative"}, "y": {"field": "y", "type": "quantitative"}}},
              {"data": {"name": "gates"}, "transform": [{"filter": "datum.p == 'B4'"}], "mark": {"type": "rule", "color": "black", "strokeWidth": 2}, "encoding": {"x": {"field": "lo", "type": "quantitative"}, "x2": {"field": "hi"}, "y": {"field": "y", "type": "quantitative"}}},
              {"data": {"name": "gates"}, "transform": [{"filter": "datum.p == 'B4'"}], "mark": {"type": "tick", "orient": "vertical", "color": "black", "size": 14, "thickness": 2}, "encoding": {"x": {"field": "x", "type": "quantitative"}, "y": {"field": "y", "type": "quantitative"}}}
            ]
          }
        ]
      },
      {"width": 1, "height": 150, "data": {"values": []}, "mark": "point"},
      {
        "bounds": "flush", "spacing": 24,
        "hconcat": [
          {
            "width": 128, "height": 125, "view": {"stroke": "black", "strokeWidth": 1.2},
            "layer": [
              {"data": {"name": "F1g"}, "mark": {"type": "area", "fill": "#7c7c7c", "stroke": "black", "strokeWidth": 0.8},
               "encoding": {
                 "x": {"field": "x", "type": "quantitative", "scale": {"domain": [0, 4], "nice": false, "zero": false}, "axis": {"title": "CD4⁺", "titleX": 3, "titleY": -108, "titleAlign": "left", "titleBaseline": "alphabetic", "titleAngle": 0, "titleFontSize": 15, "titleFontWeight": "normal", "labels": false, "tickCount": 60, "values": [0,0.301,0.477,0.602,0.699,0.778,0.845,0.903,0.954,1,1.301,1.477,1.602,1.699,1.778,1.845,1.903,1.954,2,2.301,2.477,2.602,2.699,2.778,2.845,2.903,2.954,3,3.301,3.477,3.602,3.699,3.778,3.845,3.903,3.954,4], "tickSize": {"condition": {"test": "abs(datum.value - round(datum.value)) < 0.01", "value": 5}, "value": 2.5}, "tickWidth": 1, "domainWidth": 1.2}},
                 "y": {"field": "y", "type": "quantitative", "scale": {"domain": [0, 100], "nice": false}, "axis": {"title": "% of Maximum", "titleFontSize": 15, "titleFontWeight": "bold", "titleAngle": -90, "titleX": -38, "titleY": 122, "titleAlign": "center", "titleBaseline": "middle", "labels": false, "tickCount": 20, "values": [0, 20, 40, 60, 80, 100], "tickSize": 3, "tickWidth": 1, "domainWidth": 1.2}}
               }},
              {"data": {"name": "F1l"}, "mark": {"type": "line", "color": "black", "strokeWidth": 1}, "encoding": {"x": {"field": "x", "type": "quantitative"}, "y": {"field": "y", "type": "quantitative"}}},
              {"data": {"name": "gates"}, "transform": [{"filter": "datum.p == 'F1'"}], "mark": {"type": "rule", "color": "black", "strokeWidth": 2}, "encoding": {"x": {"field": "lo", "type": "quantitative"}, "x2": {"field": "hi"}, "y": {"field": "y", "type": "quantitative"}}},
              {"data": {"name": "gates"}, "transform": [{"filter": "datum.p == 'F1'"}], "mark": {"type": "tick", "orient": "vertical", "color": "black", "size": 15, "thickness": 2}, "encoding": {"x": {"field": "x", "type": "quantitative"}, "y": {"field": "y", "type": "quantitative"}}}
            ]
          },
          {
            "width": 126, "height": 125, "view": {"stroke": "black", "strokeWidth": 1.2},
            "layer": [
              {"data": {"name": "F2g"}, "mark": {"type": "area", "fill": "#7c7c7c", "stroke": "black", "strokeWidth": 0.8},
               "encoding": {
                 "x": {"field": "x", "type": "quantitative", "scale": {"domain": [0, 4], "nice": false, "zero": false}, "axis": {"title": "CD8⁺", "titleX": 9, "titleY": -108, "titleAlign": "left", "titleBaseline": "alphabetic", "titleAngle": 0, "titleFontSize": 15, "titleFontWeight": "normal", "labels": false, "tickCount": 60, "values": [0,0.301,0.477,0.602,0.699,0.778,0.845,0.903,0.954,1,1.301,1.477,1.602,1.699,1.778,1.845,1.903,1.954,2,2.301,2.477,2.602,2.699,2.778,2.845,2.903,2.954,3,3.301,3.477,3.602,3.699,3.778,3.845,3.903,3.954,4], "tickSize": {"condition": {"test": "abs(datum.value - round(datum.value)) < 0.01", "value": 5}, "value": 2.5}, "tickWidth": 1, "domainWidth": 1.2}},
                 "y": {"field": "y", "type": "quantitative", "scale": {"domain": [0, 100], "nice": false}, "axis": {"title": "F", "titleX": -216, "titleY": 15, "titleAlign": "left", "titleBaseline": "alphabetic", "titleAngle": 0, "titleFontSize": 17, "titleFontWeight": "bold", "labels": false, "tickCount": 20, "values": [0, 20, 40, 60, 80, 100], "tickSize": 3, "tickWidth": 1, "domainWidth": 1.2}}
               }},
              {"data": {"name": "F2l"}, "mark": {"type": "line", "color": "black", "strokeWidth": 1}, "encoding": {"x": {"field": "x", "type": "quantitative"}, "y": {"field": "y", "type": "quantitative"}}},
              {"data": {"name": "gates"}, "transform": [{"filter": "datum.p == 'F2'"}], "mark": {"type": "rule", "color": "black", "strokeWidth": 2}, "encoding": {"x": {"field": "lo", "type": "quantitative"}, "x2": {"field": "hi"}, "y": {"field": "y", "type": "quantitative"}}},
              {"data": {"name": "gates"}, "transform": [{"filter": "datum.p == 'F2'"}], "mark": {"type": "tick", "orient": "vertical", "color": "black", "size": 15, "thickness": 2}, "encoding": {"x": {"field": "x", "type": "quantitative"}, "y": {"field": "y", "type": "quantitative"}}}
            ]
          }
        ]
      },
      {"width": 1, "height": 143, "data": {"values": []}, "mark": "point"},
      {
        "bounds": "flush", "spacing": 24,
        "hconcat": [
          {
            "width": 128, "height": 120, "view": {"stroke": "black", "strokeWidth": 1.2},
            "layer": [
              {"data": {"name": "F3g"}, "mark": {"type": "area", "fill": "#7c7c7c", "stroke": "black", "strokeWidth": 0.8},
               "encoding": {
                 "x": {"field": "x", "type": "quantitative", "scale": {"domain": [0, 4], "nice": false, "zero": false}, "axis": {"title": "Mono", "titleX": 3, "titleY": -96, "titleAlign": "left", "titleBaseline": "alphabetic", "titleAngle": 0, "titleFontSize": 15, "titleFontWeight": "normal", "labels": false, "tickCount": 60, "values": [0,0.301,0.477,0.602,0.699,0.778,0.845,0.903,0.954,1,1.301,1.477,1.602,1.699,1.778,1.845,1.903,1.954,2,2.301,2.477,2.602,2.699,2.778,2.845,2.903,2.954,3,3.301,3.477,3.602,3.699,3.778,3.845,3.903,3.954,4], "tickSize": {"condition": {"test": "abs(datum.value - round(datum.value)) < 0.01", "value": 5}, "value": 2.5}, "tickWidth": 1, "domainWidth": 1.2}},
                 "y": {"field": "y", "type": "quantitative", "scale": {"domain": [0, 100], "nice": false}, "axis": {"title": "⟶", "titleFont": "DejaVu Sans", "titleFontSize": 24, "titleFontWeight": "normal", "titleAngle": 0, "titleX": 44, "titleY": 135, "titleAlign": "left", "titleBaseline": "middle", "labels": false, "tickCount": 20, "values": [0, 20, 40, 60, 80, 100], "tickSize": 3, "tickWidth": 1, "domainWidth": 1.2}}
               }},
              {"data": {"name": "F3l"}, "mark": {"type": "line", "color": "black", "strokeWidth": 1}, "encoding": {"x": {"field": "x", "type": "quantitative"}, "y": {"field": "y", "type": "quantitative"}}},
              {"data": {"name": "gates"}, "transform": [{"filter": "datum.p == 'F3'"}], "mark": {"type": "rule", "color": "black", "strokeWidth": 2}, "encoding": {"x": {"field": "lo", "type": "quantitative"}, "x2": {"field": "hi"}, "y": {"field": "y", "type": "quantitative"}}},
              {"data": {"name": "gates"}, "transform": [{"filter": "datum.p == 'F3'"}], "mark": {"type": "tick", "orient": "vertical", "color": "black", "size": 15, "thickness": 2}, "encoding": {"x": {"field": "x", "type": "quantitative"}, "y": {"field": "y", "type": "quantitative"}}}
            ]
          },
          {
            "width": 126, "height": 120, "view": {"stroke": "black", "strokeWidth": 1.2},
            "layer": [
              {"data": {"name": "F4g"}, "mark": {"type": "area", "fill": "#7c7c7c", "stroke": "black", "strokeWidth": 0.8},
               "encoding": {
                 "x": {"field": "x", "type": "quantitative", "scale": {"domain": [0, 4], "nice": false, "zero": false}, "axis": {"title": "DC", "titleX": 4, "titleY": -96, "titleAlign": "left", "titleBaseline": "alphabetic", "titleAngle": 0, "titleFontSize": 15, "titleFontWeight": "normal", "labels": false, "tickCount": 60, "values": [0,0.301,0.477,0.602,0.699,0.778,0.845,0.903,0.954,1,1.301,1.477,1.602,1.699,1.778,1.845,1.903,1.954,2,2.301,2.477,2.602,2.699,2.778,2.845,2.903,2.954,3,3.301,3.477,3.602,3.699,3.778,3.845,3.903,3.954,4], "tickSize": {"condition": {"test": "abs(datum.value - round(datum.value)) < 0.01", "value": 5}, "value": 2.5}, "tickWidth": 1, "domainWidth": 1.2}},
                 "y": {"field": "y", "type": "quantitative", "scale": {"domain": [0, 100], "nice": false}, "axis": {"title": "HA binding", "titleX": -192, "titleY": 136, "titleAlign": "left", "titleBaseline": "middle", "titleAngle": 0, "titleFontSize": 12.5, "titleFontWeight": "bold", "labels": false, "tickCount": 20, "values": [0, 20, 40, 60, 80, 100], "tickSize": 3, "tickWidth": 1, "domainWidth": 1.2}}
               }},
              {"data": {"name": "F4l"}, "mark": {"type": "line", "color": "black", "strokeWidth": 1}, "encoding": {"x": {"field": "x", "type": "quantitative"}, "y": {"field": "y", "type": "quantitative"}}},
              {"data": {"name": "gates"}, "transform": [{"filter": "datum.p == 'F4'"}], "mark": {"type": "rule", "color": "black", "strokeWidth": 2}, "encoding": {"x": {"field": "lo", "type": "quantitative"}, "x2": {"field": "hi"}, "y": {"field": "y", "type": "quantitative"}}},
              {"data": {"name": "gates"}, "transform": [{"filter": "datum.p == 'F4'"}], "mark": {"type": "tick", "orient": "vertical", "color": "black", "size": 15, "thickness": 2}, "encoding": {"x": {"field": "x", "type": "quantitative"}, "y": {"field": "y", "type": "quantitative"}}}
            ]
          }
        ]
      }
    ]
  }
]
}
